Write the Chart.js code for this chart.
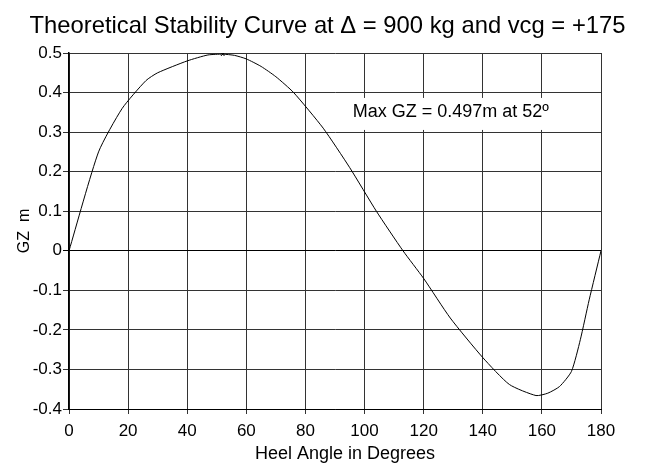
<!DOCTYPE html>
<html>
<head>
<meta charset="utf-8">
<script src="https://cdn.jsdelivr.net/npm/chart.js@4"></script>
<style>
  html, body { margin: 0; padding: 0; background: #fff; }
  #wrap { width: 647px; height: 474px; }
</style>
</head>
<body>
<div id="wrap"><canvas id="gzChart"></canvas></div>
<script>
// heel angle (deg) and GZ (m)
const heelAngles = [0, 10, 18, 26, 30, 40, 47, 52, 56, 60, 65, 70, 76, 86, 95, 104, 113, 120, 129, 140, 149, 158, 162, 166, 170, 173, 176, 180];
const gzValues = [0, 0.25, 0.36, 0.43, 0.45, 0.48, 0.495, 0.497, 0.494, 0.485, 0.466, 0.44, 0.40, 0.31, 0.21, 0.10, 0.0, -0.07, -0.17, -0.27, -0.338, -0.366, -0.36, -0.343, -0.305, -0.225, -0.124, 0];
const maxPoint = { x: 52, y: 0.497 };
const xTicks = [0, 20, 40, 60, 80, 100, 120, 140, 160, 180];
const yTicks = [-0.4, -0.3, -0.2, -0.1, 0, 0.1, 0.2, 0.3, 0.4, 0.5];
const titleText = "Theoretical Stability Curve at Δ = 900 kg and vcg = +175";
const xTitleText = "Heel Angle in Degrees";
const noteText = "Max GZ = 0.497m at 52º";

const FONT = "'Liberation Sans', Arial, Helvetica, sans-serif";

// title, x-axis title and the max-GZ note
const textPlugin = {
    id: "texts",
    afterDatasetsDraw(chart) {
        const ctx = chart.ctx;
        const area = chart.chartArea;
        ctx.save();
        ctx.fillStyle = "#000";
        ctx.textBaseline = "middle";

        // note on a white box, anchored in data units
        const nx = chart.scales.x.getPixelForValue(96);
        const ny = chart.scales.y.getPixelForValue(0.351);
        ctx.font = "18px " + FONT;
        const w = ctx.measureText(noteText).width;
        ctx.fillStyle = "#fff";
        ctx.fillRect(nx - 3, ny - 14, w + 6, 32);
        ctx.fillStyle = "#000";
        ctx.textAlign = "left";
        ctx.fillText(noteText, nx, ny);

        ctx.textAlign = "center";
        ctx.font = "23.8px " + FONT;
        ctx.fillText(titleText, chart.width / 2 + 4, 26);

        ctx.font = "18px " + FONT;
        ctx.fillText(xTitleText, (area.left + area.right) / 2 + 10, 454);
        ctx.restore();
    }
};

const points = heelAngles.map((a, i) => ({ x: a, y: gzValues[i] }));

new Chart(document.getElementById("gzChart"), {
    type: "scatter",
    data: {
        datasets: [{
            data: points,
            showLine: true,
            borderColor: "#000",
            borderWidth: 1,
            pointRadius: 0,
            tension: 0.2
        }, {
            data: [maxPoint],
            pointStyle: "crossRot",
            pointRadius: 2.5,
            borderColor: "#000",
            borderWidth: 1
        }]
    },
    options: {
        responsive: true,
        maintainAspectRatio: false,
        animation: false,
        layout: { padding: { left: 0, right: 46, top: 53, bottom: 0 } },
        plugins: {
            legend: { display: false },
            tooltip: { enabled: false },
            title: { display: false }
        },
        scales: {
            x: {
                type: "linear",
                min: 0,
                max: 180,
                afterBuildTicks: (s) => { s.ticks = xTicks.map(v => ({ value: v })); },
                afterFit: (s) => { s.height = 65; },
                ticks: { color: "#000", font: { family: FONT, size: 17 }, padding: 7 },
                grid: { color: "#333", lineWidth: 1, tickLength: 5 },
                border: { color: "#000", width: 1 }
            },
            y: {
                min: -0.4,
                max: 0.5,
                afterBuildTicks: (s) => { s.ticks = yTicks.map(v => ({ value: v })); },
                afterFit: (s) => { s.width = 69; },
                ticks: {
                    color: "#000",
                    font: { family: FONT, size: 17 },
                    padding: 1,
                    callback: (v) => v === 0 ? "0" : v.toFixed(1)
                },
                grid: {
                    color: (c) => c.tick && c.tick.value === 0 ? "#000" : "#333",
                    lineWidth: 1,
                    tickLength: 6
                },
                border: { color: "#000", width: 1.5 },
                title: {
                    display: true,
                    text: "GZ  m",
                    color: "#000",
                    font: { family: FONT, size: 16 },
                    padding: { top: 15.4, bottom: 0 }
                }
            }
        }
    },
    plugins: [textPlugin]
});
</script>
</body>
</html>
